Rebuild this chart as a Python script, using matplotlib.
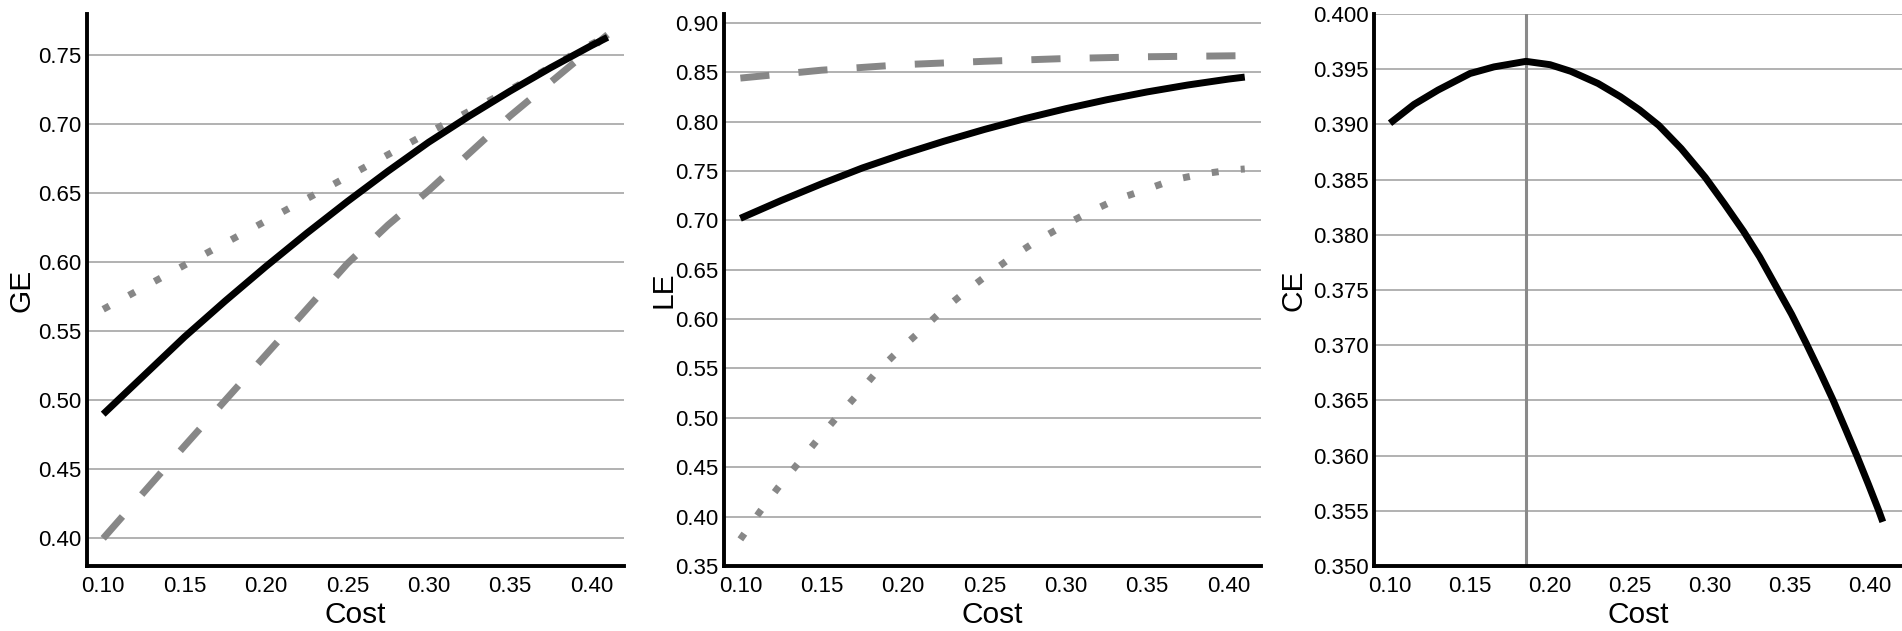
import matplotlib
matplotlib.use("Agg")
import matplotlib.pyplot as plt

plt.rcParams["font.family"] = ["Liberation Sans", "DejaVu Sans"]

# GE panel
ge_solid_x = [0.10, 0.125, 0.15, 0.175, 0.20, 0.225, 0.25, 0.275, 0.30, 0.325, 0.35, 0.375, 0.40, 0.41]
ge_solid_y = [0.490, 0.518, 0.546, 0.572, 0.597, 0.621, 0.644, 0.666, 0.687, 0.706, 0.724, 0.741, 0.757, 0.763]
ge_dot_x = [0.10, 0.15, 0.20, 0.25, 0.30, 0.35, 0.40, 0.41]
ge_dot_y = [0.566, 0.598, 0.630, 0.662, 0.694, 0.725, 0.758, 0.764]
ge_dash_x = [0.10, 0.15, 0.20, 0.25, 0.275, 0.30, 0.35, 0.40, 0.41]
ge_dash_y = [0.400, 0.467, 0.533, 0.599, 0.627, 0.652, 0.706, 0.755, 0.765]

# LE panel
le_solid_x = [0.10, 0.125, 0.15, 0.175, 0.20, 0.225, 0.25, 0.275, 0.30, 0.325, 0.35, 0.375, 0.40, 0.41]
le_solid_y = [0.702, 0.720, 0.737, 0.753, 0.767, 0.780, 0.792, 0.803, 0.813, 0.822, 0.830, 0.837, 0.843, 0.845]
le_dash_x = [0.10, 0.15, 0.20, 0.25, 0.30, 0.35, 0.41]
le_dash_y = [0.844, 0.852, 0.8576, 0.861, 0.8638, 0.8656, 0.8667]
le_dot_x = [0.100, 0.112, 0.123, 0.135, 0.147, 0.159, 0.171, 0.183, 0.196, 0.210, 0.223, 0.237,
            0.252, 0.267, 0.282, 0.298, 0.314, 0.331, 0.349, 0.366, 0.384, 0.402, 0.41]
le_dot_y = [0.377, 0.405, 0.429, 0.453, 0.477, 0.500, 0.522, 0.545, 0.566, 0.587, 0.607, 0.626,
            0.645, 0.663, 0.679, 0.694, 0.708, 0.721, 0.731, 0.741, 0.747, 0.751, 0.752]

# CE panel
ce_x = [0.10, 0.115, 0.13, 0.15, 0.165, 0.185, 0.20, 0.213, 0.23, 0.244, 0.256, 0.268, 0.282, 0.297,
        0.309, 0.321, 0.331, 0.341, 0.351, 0.360, 0.369, 0.377, 0.385, 0.392, 0.399, 0.4055, 0.408]
ce_y = [0.3901, 0.3918, 0.3931, 0.3946, 0.3952, 0.3957, 0.3954, 0.3948, 0.3937, 0.3925, 0.3913,
        0.3899, 0.3878, 0.3852, 0.3828, 0.3803, 0.3780, 0.3754, 0.3728, 0.3702, 0.3675, 0.3650,
        0.3623, 0.3599, 0.3574, 0.3550, 0.3540]
ce_peak = 0.185

xticks = [0.10, 0.15, 0.20, 0.25, 0.30, 0.35, 0.40]
ge_ticks = [0.40, 0.45, 0.50, 0.55, 0.60, 0.65, 0.70, 0.75]
le_ticks = [0.35, 0.40, 0.45, 0.50, 0.55, 0.60, 0.65, 0.70, 0.75, 0.80, 0.85, 0.90]
ce_ticks = [0.350, 0.355, 0.360, 0.365, 0.370, 0.375, 0.380, 0.385, 0.390, 0.395, 0.400]

GRAY = "#878787"
LW = 5

fig = plt.figure(figsize=(19.02, 6.31), dpi=100)
ax1 = fig.add_axes([0.0457, 0.103, 0.2823, 0.875])
ax2 = fig.add_axes([0.3807, 0.103, 0.2823, 0.875])
ax3 = fig.add_axes([0.7224, 0.103, 0.2776, 0.875])


def style(ax, yticks, ylim, fmt, ylabel, ylab_x):
    ax.set_xlim(0.09, 0.42)
    ax.set_ylim(*ylim)
    ax.set_xticks(xticks)
    ax.set_xticklabels(["%.2f" % t for t in xticks])
    ax.set_yticks(yticks)
    ax.set_yticklabels([fmt % t for t in yticks])
    for s in ["top", "right"]:
        ax.spines[s].set_visible(False)
    for s in ["left", "bottom"]:
        ax.spines[s].set_linewidth(2.8)
        ax.spines[s].set_color("black")
        ax.spines[s].set_zorder(5)
    ax.tick_params(length=0, labelsize=16, colors="black")
    ax.tick_params(axis="x", pad=7)
    ax.tick_params(axis="y", pad=4)
    ax.yaxis.grid(True, color="#ababab", linewidth=1.3)
    ax.set_axisbelow(True)
    ax.set_xlabel("Cost", fontsize=21.5, va="center")
    ax.set_ylabel(ylabel, fontsize=21.5, va="center")
    ax.xaxis.set_label_coords(0.5, -0.089)
    ax.yaxis.set_label_coords(ylab_x, 0.5)


# panel 1
ax1.plot(ge_dot_x, ge_dot_y, color=GRAY, lw=LW, dashes=(1.0, 3.2), dash_capstyle="butt")
ax1.plot(ge_dash_x, ge_dash_y, color=GRAY, lw=LW, dashes=(4.2, 4.2), dash_capstyle="butt")
ax1.plot(ge_solid_x, ge_solid_y, color="black", lw=LW, solid_capstyle="butt", solid_joinstyle="round")
style(ax1, ge_ticks, (0.38, 0.78), "%.2f", "GE", -0.121)

# panel 2
ax2.plot(le_dot_x, le_dot_y, color=GRAY, lw=LW, dashes=(1.0, 3.2), dash_capstyle="butt")
ax2.plot(le_dash_x, le_dash_y, color=GRAY, lw=LW, dashes=(4.2, 4.2), dash_capstyle="butt")
ax2.plot(le_solid_x, le_solid_y, color="black", lw=LW, solid_capstyle="butt", solid_joinstyle="round")
style(ax2, le_ticks, (0.35, 0.909), "%.2f", "LE", -0.113)

# panel 3
ax3.axvline(ce_peak, color="#8a8a8a", lw=2.2, zorder=1)
ax3.plot(ce_x, ce_y, color="black", lw=LW, solid_capstyle="butt", solid_joinstyle="round")
style(ax3, ce_ticks, (0.350, 0.400), "%.3f", "CE", -0.153)

fig.savefig("out.png", dpi=100)
